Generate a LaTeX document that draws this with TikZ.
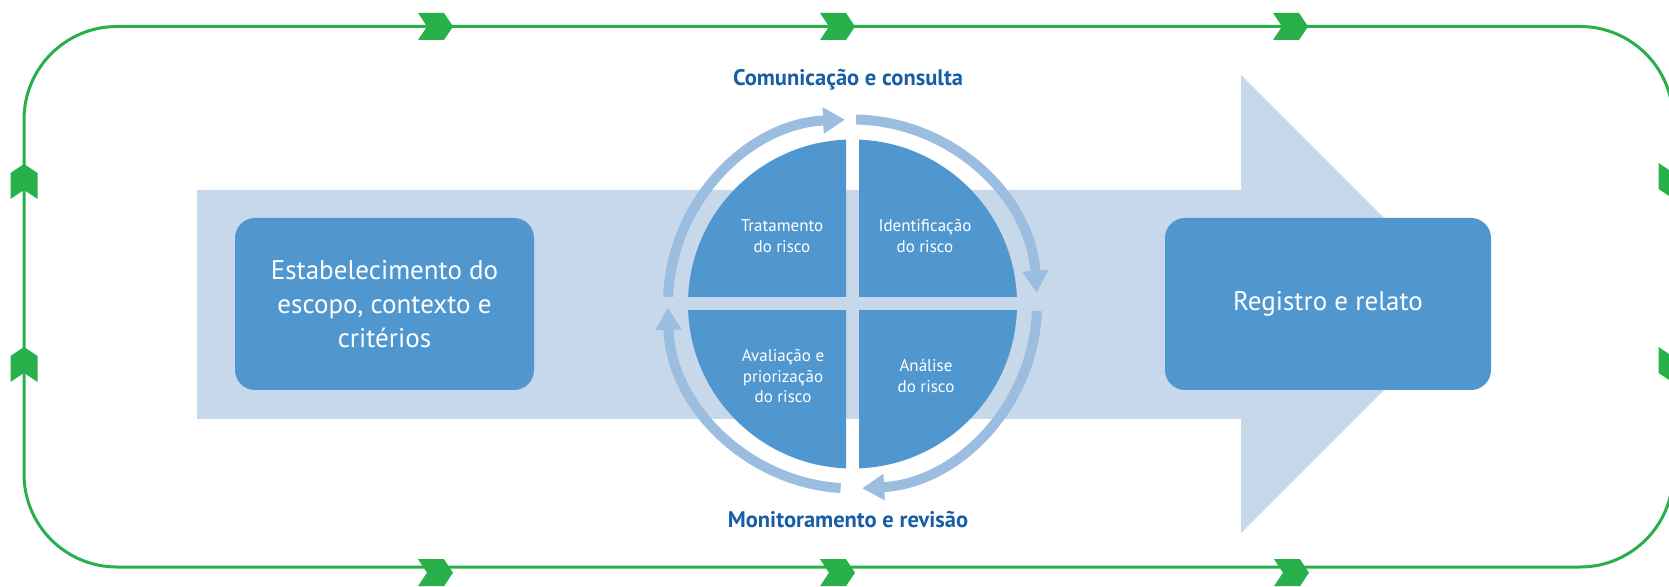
\documentclass[tikz,border=0pt]{standalone}
\usepackage{fontspec}
\setmainfont{PT Sans}
\usetikzlibrary{arrows.meta}
\definecolor{boxblue}{RGB}{80,151,208}
\definecolor{pale}{RGB}{198,216,233}
\definecolor{ringc}{RGB}{155,189,223}
\definecolor{titleblue}{RGB}{23,94,166}
\definecolor{loopgreen}{RGB}{40,176,74}
\tikzset{
  loopline/.style={draw=loopgreen, line width=3pt},
  chev/.pic={\fill[loopgreen] (0,13.5) -- (26,13.5) -- (35,0) -- (26,-13.5) -- (0,-13.5) -- (9,0) -- cycle;},
  bigbox/.style={fill=boxblue, rounded corners=20pt, text=white, align=center, inner sep=0pt,
    minimum height=172pt, font=\fontsize{27}{34}\selectfont},
  quad/.style={fill=boxblue},
  qtext/.style={text=white, align=center, inner sep=0pt, font=\fontsize{17}{20.5}\selectfont},
  ttl/.style={text=titleblue, anchor=base, inner sep=0pt, font=\bfseries\fontsize{22.5}{27}\selectfont},
  ring/.style={draw=ringc, line width=10pt, -{Triangle[width=25pt,length=22pt]}}
}
\begin{document}
\begin{tikzpicture}[x=1pt,y=1pt]
\useasboundingbox (0,0) rectangle (1669,586);
\clip (0,0) rectangle (1669,586);
% outer loop
\draw[loopline, rounded corners=93pt] (24,19) rectangle (1673,559.5);
\foreach \x in {418,820,1273} \pic at (\x,559.5) {chev};
\foreach \x in {418,820,1274} \pic at (\x,13.3) {chev};
\pic[rotate=90] at (24,387) {chev};
\pic[rotate=90] at (24,204) {chev};
\pic[rotate=-90] at (1672,423) {chev};
\pic[rotate=-90] at (1672,239) {chev};
% big arrow
\fill[pale] (197,396) -- (1241,396) -- (1241,511) -- (1470,282) -- (1241,53) -- (1241,167) -- (197,167) -- cycle;
% boxes
\node[bigbox, minimum width=299pt] (est) at (384.5,282) {Estabelecimento do\\escopo, contexto e\\critérios};
\node[bigbox, minimum width=326pt] (reg) at (1328,282) {Registro e relato};
% circle quadrants
\coordinate (C) at (852.5,282);
\begin{scope}\clip (859,289) rectangle (1030,460); \fill[quad] (C) circle[radius=164.5]; \end{scope}
\begin{scope}\clip (846,289) rectangle (680,460); \fill[quad] (C) circle[radius=164.5]; \end{scope}
\begin{scope}\clip (846,275) rectangle (680,100); \fill[quad] (C) circle[radius=164.5]; \end{scope}
\begin{scope}\clip (859,275) rectangle (1030,100); \fill[quad] (C) circle[radius=164.5]; \end{scope}
% ring arrows
\draw[ring] (C) ++(177.8:184.5) arc[start angle=177.8, end angle=92.3, radius=184.5];
\draw[ring] (C) ++(88.9:184.5) arc[start angle=88.9, end angle=3.5, radius=184.5];
\draw[ring] (C) ++(-2.2:184.5) arc[start angle=-2.2, end angle=-87, radius=184.5];
\draw[ring] (C) ++(-93.7:184.5) arc[start angle=-93.7, end angle=-178.8, radius=184.5];
% quadrant texts
\node[qtext] (q1) at (782,350) {Tratamento\\do risco};
\node[qtext] (q2) at (925,350) {Identificação\\do risco};
\node[qtext] (q3) at (783,209.5) {Avaliação e\\priorização\\do risco};
\node[qtext] (q4) at (926,210) {Análise\\do risco};
% titles
\node[ttl] (com) at (848,500) {Comunicação e consulta};
\node[ttl] (mon) at (848,59) {Monitoramento e revisão};
\end{tikzpicture}
\end{document}
